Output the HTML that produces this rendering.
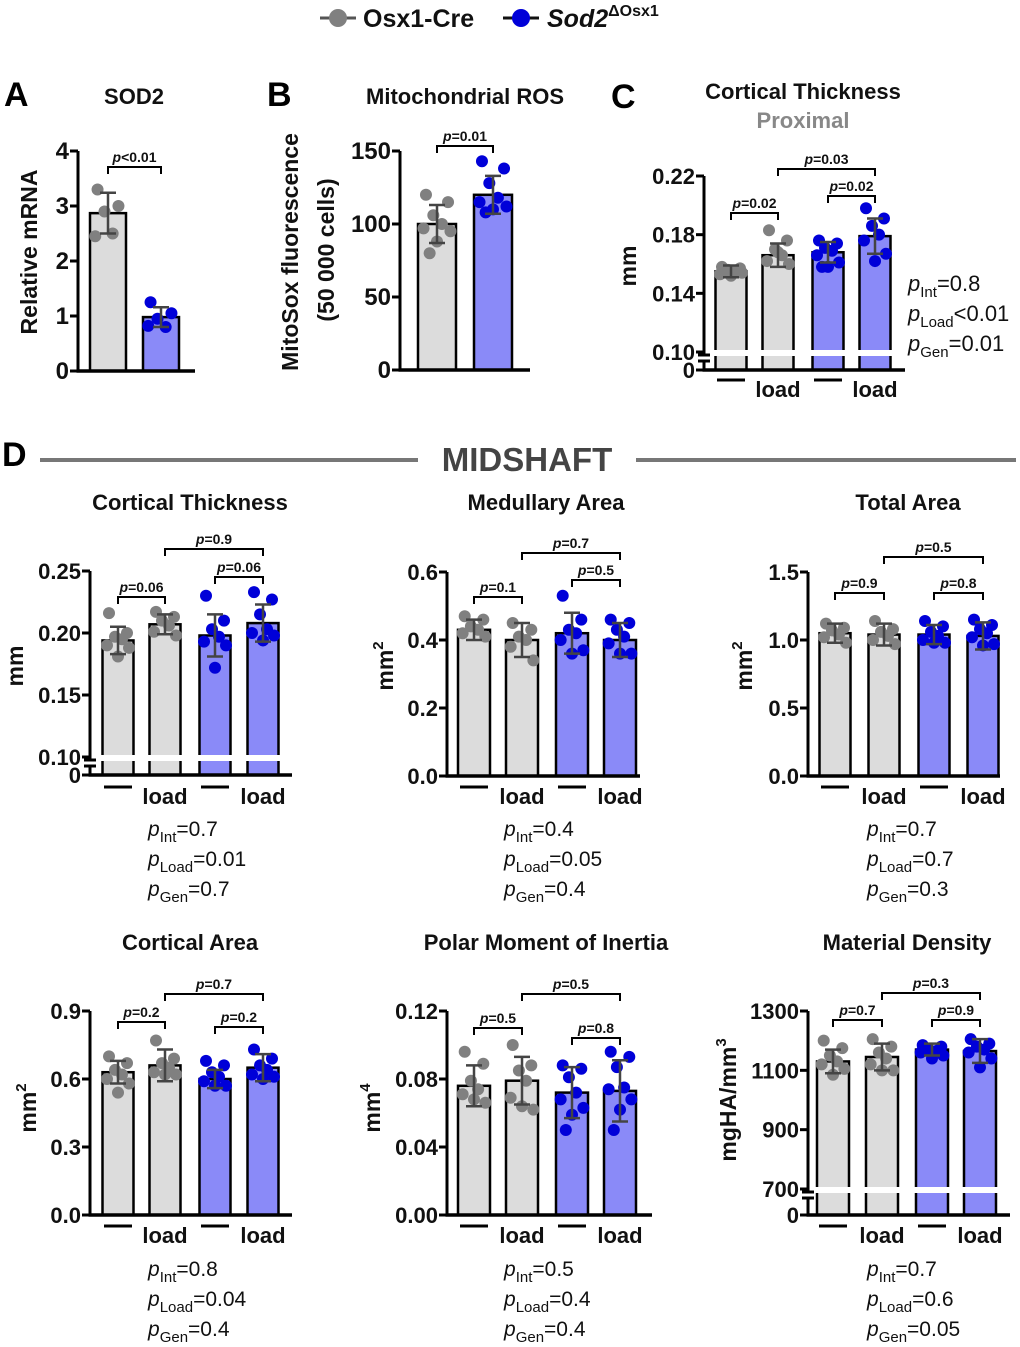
<!DOCTYPE html>
<html><head><meta charset="utf-8">
<style>
html,body{margin:0;padding:0;background:#fff;}
svg{display:block;font-family:"Liberation Sans",sans-serif;}
</style></head>
<body>
<svg id="fig" width="1020" height="1347" viewBox="0 0 1020 1347" xmlns="http://www.w3.org/2000/svg">
  <g>
    <line x1="320" y1="18" x2="356" y2="18" stroke="#555" stroke-width="3"/>
    <circle cx="338" cy="18" r="9" fill="#808080"/>
    <text x="363" y="27" font-size="25" font-weight="bold" fill="#111">Osx1-Cre</text>
    <line x1="503" y1="18" x2="539" y2="18" stroke="#111" stroke-width="3"/>
    <circle cx="521" cy="18" r="9" fill="#0000d8"/>
    <text x="547" y="27" font-size="25" font-weight="bold" font-style="italic" fill="#111">Sod2<tspan font-style="normal" font-size="16" dy="-11">ΔOsx1</tspan></text>
  </g>
  <g font-weight="bold" font-size="34" fill="#000">
    <text x="4" y="106">A</text>
    <text x="267" y="106">B</text>
    <text x="611" y="108">C</text>
    <text x="2" y="466">D</text>
  </g>
  <g font-weight="bold" font-size="22" fill="#111" text-anchor="middle">
    <text x="134" y="104">SOD2</text>
    <text x="465" y="104">Mitochondrial ROS</text>
    <text x="803" y="99">Cortical Thickness</text>
    <text x="803" y="128" fill="#888">Proximal</text>
    <text x="190" y="510">Cortical Thickness</text>
    <text x="546" y="510">Medullary Area</text>
    <text x="908" y="510">Total Area</text>
    <text x="190" y="950">Cortical Area</text>
    <text x="546" y="950">Polar Moment of Inertia</text>
    <text x="907" y="950">Material Density</text>
  </g>
  <g>
    <line x1="40" y1="460" x2="418" y2="460" stroke="#777" stroke-width="4"/>
    <line x1="636" y1="460" x2="1016" y2="460" stroke="#777" stroke-width="4"/>
    <text x="527" y="471" font-size="33" font-weight="bold" fill="#444" text-anchor="middle">MIDSHAFT</text>
  </g>
  <g font-weight="bold" font-size="23" fill="#111" text-anchor="middle">
    <text transform="translate(37,252) rotate(-90)">Relative mRNA</text>
    <text transform="translate(298,252) rotate(-90)">MitoSox fluorescence</text>
    <text transform="translate(334,250) rotate(-90)">(50 000 cells)</text>
    <text transform="translate(636,266) rotate(-90)">mm</text>
    <text transform="translate(23,666) rotate(-90)">mm</text>
    <text transform="translate(393,666) rotate(-90)">mm<tspan font-size="15" dy="-10">2</tspan></text>
    <text transform="translate(752,666) rotate(-90)">mm<tspan font-size="15" dy="-10">2</tspan></text>
    <text transform="translate(36,1108) rotate(-90)">mm<tspan font-size="15" dy="-10">2</tspan></text>
    <text transform="translate(380,1108) rotate(-90)">mm<tspan font-size="15" dy="-10">4</tspan></text>
    <text transform="translate(736,1100) rotate(-90)">mgHA/mm<tspan font-size="15" dy="-10">3</tspan></text>
  </g>
  <g id="plots"></g>
  <g id="stats" font-size="21" fill="#111"></g>
</svg>
<script>
// ---- data ----
const catsA = ['Osx1-Cre','Sod2'];
const meansA = [2.87, 0.98];
const sdA = [0.37, 0.18];
const ptsA = [[3.3,3.0,2.9,2.5,2.45],[1.25,1.05,0.95,0.8,0.82]];

const meansB = [100, 120];
const sdB = [13, 13];
const ptsB = [[120,115,106,100,97,95,88,80],[143,138,128,118,115,112,110,108]];

const groups4 = ['ctrl','ctrl-load','sod2','sod2-load'];
const meansC = [0.155,0.166,0.168,0.179];
const sdC = [0.004,0.008,0.007,0.012];
const ptsC = [[0.158,0.157,0.156,0.155,0.153,0.154,0.152,0.156],[0.183,0.176,0.170,0.166,0.162,0.160,0.168],[0.176,0.174,0.171,0.169,0.166,0.161,0.158,0.158],[0.198,0.191,0.186,0.180,0.176,0.167,0.162]];

const meansCT = [0.194,0.207,0.198,0.208];
const sdCT = [0.011,0.008,0.017,0.015];
const ptsCT = [[0.216,0.200,0.197,0.195,0.190,0.188,0.181],[0.217,0.213,0.210,0.206,0.201,0.198],[0.230,0.210,0.203,0.197,0.193,0.190,0.172],[0.233,0.227,0.215,0.203,0.200,0.198,0.194]];

const meansMA = [0.43,0.40,0.42,0.40];
const sdMA = [0.03,0.05,0.06,0.05];
const ptsMA = [[0.47,0.46,0.44,0.43,0.42,0.41],[0.45,0.43,0.41,0.40,0.38,0.34],[0.53,0.46,0.43,0.42,0.40,0.37,0.36],[0.46,0.45,0.43,0.41,0.39,0.36,0.36]];

const meansTA = [1.05,1.04,1.04,1.03];
const sdTA = [0.07,0.08,0.07,0.10];
const ptsTA = [[1.12,1.09,1.07,1.04,1.02,0.98],[1.14,1.08,1.06,1.03,1.00,0.97],[1.14,1.10,1.06,1.03,1.00,0.98,0.98],[1.15,1.11,1.08,1.05,1.02,0.97,0.96]];

const meansCA = [0.63,0.66,0.60,0.65];
const sdCA = [0.05,0.07,0.04,0.06];
const ptsCA = [[0.70,0.67,0.64,0.62,0.60,0.58,0.54],[0.77,0.69,0.67,0.65,0.63,0.62,0.62],[0.68,0.66,0.63,0.61,0.59,0.57,0.57],[0.73,0.69,0.66,0.64,0.62,0.61,0.60]];

const meansPM = [0.076,0.079,0.072,0.073];
const sdPM = [0.012,0.014,0.015,0.018];
const ptsPM = [[0.096,0.089,0.079,0.074,0.071,0.066,0.068],[0.100,0.088,0.085,0.079,0.069,0.062,0.064],[0.088,0.086,0.081,0.072,0.068,0.063,0.059,0.050],[0.096,0.093,0.087,0.075,0.074,0.068,0.062,0.050]];

const meansMD = [1130,1145,1170,1165];
const sdMD = [40,45,20,40];
const ptsMD = [[1200,1175,1150,1130,1120,1105,1085],[1205,1180,1160,1140,1120,1100,1100],[1185,1180,1170,1165,1160,1150,1140],[1205,1190,1180,1170,1160,1140,1110]];

const statsLines = [
  ['0.7','0.01','0.7'],['0.4','0.05','0.4'],['0.7','0.7','0.3'],
  ['0.8','0.04','0.4'],['0.5','0.4','0.4'],['0.7','0.6','0.05']
];
const statsC = ['=0.8','<0.01','=0.01'];

// ---- drawing ----
const NS='http://www.w3.org/2000/svg';
const root=document.getElementById('plots');
function mk(tag,attrs,parent){const e=document.createElementNS(NS,tag);for(const k in attrs)e.setAttribute(k,attrs[k]);(parent||root).appendChild(e);return e;}
const GRAYBAR='#dcdcdc', BLUEBAR='#8a8af8', GRAYPT='#808080', BLUEPT='#0000d8';
const jit=[-9,9,-3,4,-11,11,0,-6,7];

function panel(p){
  const g=mk('g',{});
  
  
  const y=v=>p.py0+(v-p.v0)/(p.v1-p.v0)*(p.py1-p.py0);
  // bars
  p.means.forEach((m,i)=>{
    const cx=p.cx[i];
    const r=mk('rect',{x:cx-p.w/2,y:y(m),width:p.w,height:p.base-y(m),fill:p.colors[i]==='b'?BLUEBAR:GRAYBAR,stroke:'#000','stroke-width':2.5},g);
    
    
  });
  if(p.broken){
    mk('rect',{x:p.ax+4,y:p.py0-2,width:p.end-p.ax,height:6,fill:'#fff'},g);
  }
  // points
  p.pts.forEach((arr,i)=>{
    arr.forEach((v,k)=>{
      const c=mk('circle',{cx:p.cx[i]+jit[k%jit.length]*(p.w/31),cy:y(v),r:6,fill:p.colors[i]==='b'?BLUEPT:GRAYPT},g);
      
      
    });
  });
  // error bars
  p.means.forEach((m,i)=>{
    const cx=p.cx[i], t=y(m+p.sd[i]), b=y(m-p.sd[i]);
    mk('path',{d:`M${cx},${t}V${b}M${cx-8},${t}H${cx+8}M${cx-8},${b}H${cx+8}`,stroke:'#444','stroke-width':2.5,fill:'none'},g);
  });
  // axes
  if(p.broken){
    mk('path',{d:`M${p.ax},${p.py1}V${p.py0+3}M${p.ax-6},${p.py0+3}H${p.ax+6}M${p.ax-6},${p.py0+9}H${p.ax+6}M${p.ax},${p.py0+9}V${p.base}`,stroke:'#000','stroke-width':3,fill:'none'},g);
  } else {
    mk('path',{d:`M${p.ax},${y(p.ticks[p.ticks.length-1])}V${p.base}`,stroke:'#000','stroke-width':3},g);
  }
  mk('path',{d:`M${p.ax-1.5},${p.base}H${p.end}`,stroke:'#000','stroke-width':3.5},g);
  const tickVals=p.broken?[0].concat(p.ticks):p.ticks;
  tickVals.forEach(v=>{
    const ty=(p.broken&&v===0)?p.base:y(v);
    mk('line',{x1:p.ax-8,y1:ty,x2:p.ax,y2:ty,stroke:'#000','stroke-width':3},g);
    const t=mk('text',{x:p.ax-9,y:ty+8,'text-anchor':'end','font-size':p.fs||22,'font-weight':'bold',fill:'#111'},g);
    t.textContent=v===0&&p.broken?'0':v.toFixed(p.dec);
    
    
  });
  // category labels
  if(p.catY){
    p.cx.forEach((cx,i)=>{
      if(i%2===0){mk('line',{x1:cx-14,y1:p.catY,x2:cx+14,y2:p.catY,stroke:'#000','stroke-width':3},g);}
      else{const t=mk('text',{x:cx,y:p.catY+17,'text-anchor':'middle','font-size':22,'font-weight':'bold',fill:'#111'},g);t.textContent='load';
        
        }
    });
  }
  // brackets
  (p.brackets||[]).forEach(([i,j,lab,by])=>{
    const x1=p.cx[i],x2=p.cx[j];
    mk('path',{d:`M${x1},${by+7}V${by}H${x2}V${by+7}`,stroke:'#000','stroke-width':2,fill:'none'},g);
    const t=mk('text',{x:(x1+x2)/2,y:by-5,'text-anchor':'middle','font-size':14,'font-weight':'bold',fill:'#111'},g);
    t.innerHTML='<tspan font-style="italic">p</tspan>'+(lab[0]==='<'?lab:'='+lab);
    
    
  });
}

const c4a=['g','g','b','b'];
panel({name:'sod2-chart',means:meansA,sd:sdA,pts:ptsA,colors:['g','b'],ax:78,base:371,v0:0,py0:371,v1:4,py1:151,ticks:[0,1,2,3,4],dec:0,cx:[108,161],w:36,end:195,fs:24,brackets:[[0,1,'<0.01',167]]});
panel({name:'mito-ros-chart',means:meansB,sd:sdB,pts:ptsB,colors:['g','b'],ax:400,base:370,v0:0,py0:370,v1:150,py1:151,ticks:[0,50,100,150],dec:0,cx:[437,493],w:38,end:530,fs:24,brackets:[[0,1,'0.01',146]]});
panel({name:'proximal-ct-chart',means:meansC,sd:sdC,pts:ptsC,colors:c4a,ax:704,base:370,broken:true,v0:0.10,py0:352,v1:0.22,py1:176,ticks:[0.10,0.14,0.18,0.22],dec:2,cx:[731,778,828,875],w:31,end:905,catY:380,brackets:[[0,1,'0.02',213],[2,3,'0.02',196],[1,3,'0.03',169]]});
panel({name:'midshaft-ct-chart',means:meansCT,sd:sdCT,pts:ptsCT,colors:c4a,ax:90,base:775,broken:true,v0:0.10,py0:757,v1:0.25,py1:571,ticks:[0.10,0.15,0.20,0.25],dec:2,cx:[118,165,215,263],w:31,end:292,catY:787,brackets:[[0,1,'0.06',597],[2,3,'0.06',577],[1,3,'0.9',549]]});
panel({name:'medullary-area-chart',means:meansMA,sd:sdMA,pts:ptsMA,colors:c4a,ax:447,base:776,v0:0,py0:776,v1:0.6,py1:572,ticks:[0,0.2,0.4,0.6],dec:1,cx:[474,522,572,620],w:32,end:640,catY:787,brackets:[[0,1,'0.1',597],[2,3,'0.5',580],[1,3,'0.7',553]]});
panel({name:'total-area-chart',means:meansTA,sd:sdTA,pts:ptsTA,colors:c4a,ax:808,base:776,v0:0,py0:776,v1:1.5,py1:572,ticks:[0,0.5,1.0,1.5],dec:1,cx:[835,884,934,983],w:31,end:1000,catY:787,brackets:[[0,1,'0.9',593],[2,3,'0.8',593],[1,3,'0.5',557]]});
panel({name:'cortical-area-chart',means:meansCA,sd:sdCA,pts:ptsCA,colors:c4a,ax:90,base:1215,v0:0,py0:1215,v1:0.9,py1:1011,ticks:[0,0.3,0.6,0.9],dec:1,cx:[118,165,215,263],w:31,end:292,catY:1226,brackets:[[0,1,'0.2',1022],[2,3,'0.2',1027],[1,3,'0.7',994]]});
panel({name:'polar-moment-chart',means:meansPM,sd:sdPM,pts:ptsPM,colors:c4a,ax:447,base:1215,v0:0,py0:1215,v1:0.12,py1:1011,ticks:[0,0.04,0.08,0.12],dec:2,cx:[474,522,572,620],w:32,end:652,catY:1226,brackets:[[0,1,'0.5',1028],[2,3,'0.8',1038],[1,3,'0.5',994]]});
panel({name:'material-density-chart',means:meansMD,sd:sdMD,pts:ptsMD,colors:c4a,ax:808,base:1215,broken:true,v0:700,py0:1189,v1:1300,py1:1011,ticks:[700,900,1100,1300],dec:0,cx:[833,882,932,980],w:32,end:1010,catY:1226,brackets:[[0,1,'0.7',1020],[2,3,'0.9',1020],[1,3,'0.3',993]]});

// stats text
const st=document.getElementById('stats');
function statBlock(x,y0,vals,ops,name,fs){
  const names=['Int','Load','Gen'];
  vals.forEach((v,i)=>{
    const t=document.createElementNS(NS,'text');
    t.setAttribute('x',x);t.setAttribute('y',y0+i*30);
    if(fs)t.setAttribute('font-size',fs);
    t.innerHTML='<tspan font-style="italic">p</tspan><tspan font-size="15" dy="6">'+names[i]+'</tspan><tspan dy="-6">'+(ops?ops[i]:'='+v)+'</tspan>';
    
    
    st.appendChild(t);
  });
}
statBlock(908,291,statsC,statsC,'stats-c',22);
const sx=[148,504,867], sy=[836,1276];
statsLines.forEach((v,i)=>statBlock(sx[i%3],sy[Math.floor(i/3)],v,null,'stats-d'+(i+1)));
</script>
</body></html>
